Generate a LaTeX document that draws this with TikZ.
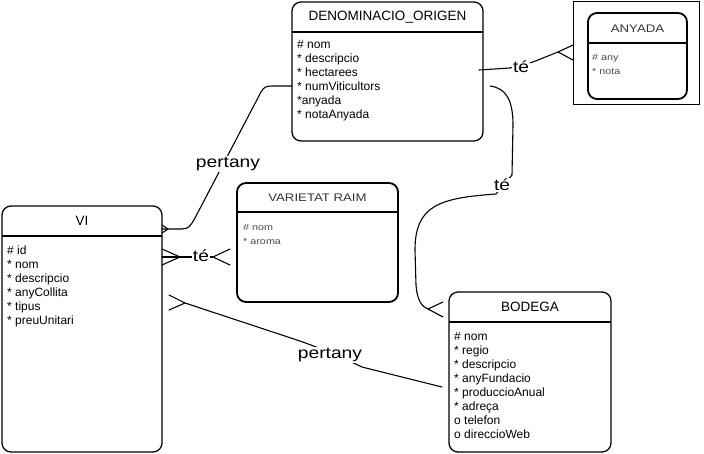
\documentclass[tikz,border=0pt]{standalone}
\usepackage{fontspec}
\setmainfont{Liberation Sans}
\newfontfamily\sketchfont[FakeStretch=1.2]{Liberation Sans}
\usetikzlibrary{calc}
\begin{document}
\begin{tikzpicture}[x=1pt,y=-1pt,
  entity/.style={draw, rounded corners=9pt, line width=1.3pt, anchor=north west, outer sep=0pt, inner sep=0pt},
  sketchbox/.style={entity, line width=1.8pt},
  hdr/.style={line width=1.3pt},
  shdr/.style={line width=1.8pt},
  ttl/.style={font=\fontsize{13.5}{16}\selectfont, inner sep=0pt},
  sttl/.style={font=\sketchfont\fontsize{11}{13}\selectfont, text=black!80, inner sep=0pt},
  attr/.style={font=\fontsize{12}{14}\selectfont, anchor=base west, inner sep=0pt},
  sattr/.style={font=\sketchfont\fontsize{9}{11}\selectfont, text=black!70, anchor=base west, inner sep=0pt},
  conn/.style={line width=1.1pt, line join=round, line cap=round},
  rel/.style={font=\sketchfont\fontsize{16}{18}\selectfont, fill=white, inner sep=1pt}]
\useasboundingbox (0,0) rectangle (704,453);

% entities
\node[entity, minimum width=191pt, minimum height=139pt] (den) at (292,2) {};
\draw[hdr] ($(den.north west)+(0,30)$) -- ($(den.north east)+(0,30)$);
\node[ttl] (denT) at (387.5,17) {DENOMINACIO\_ORIGEN};
\foreach \t [count=\i from 0] in {\# nom, * descripcio, * hectarees, * numViticultors, *anyada, * notaAnyada}
  \node[attr, name=denA\i] at (297,{48+14*\i}) {\t};

\node[draw, line width=0.8pt, anchor=north west, outer sep=0pt, inner sep=0pt, minimum width=126pt, minimum height=103pt] (anyo) at (573,1) {};
\node[sketchbox, minimum width=99pt, minimum height=86pt] (any) at (588,13) {};
\draw[shdr] ($(any.north west)+(0,30)$) -- ($(any.north east)+(0,30)$);
\node[sttl] (anyT) at (637.5,29) {ANYADA};
\node[sattr] (anyA0) at (592,60) {\# any};
\node[sattr] (anyA1) at (592,74) {* nota};

\node[entity, minimum width=160pt, minimum height=246pt] (vi) at (2,206) {};
\draw[hdr] ($(vi.north west)+(0,30)$) -- ($(vi.north east)+(0,30)$);
\node[ttl] (viT) at (82,221) {VI};
\foreach \t [count=\i from 0] in {\# id, * nom, * descripcio, * anyCollita, * tipus, * preuUnitari}
  \node[attr, name=viA\i] at (7,{254+14*\i}) {\t};

\node[sketchbox, minimum width=161pt, minimum height=119pt] (var) at (237,183) {};
\draw[shdr] ($(var.north west)+(0,29)$) -- ($(var.north east)+(0,29)$);
\node[sttl] (varT) at (317.5,198) {VARIETAT RAIM};
\node[sattr] (varA0) at (243,230) {\# nom};
\node[sattr] (varA1) at (243,244) {* aroma};

\node[entity, minimum width=162pt, minimum height=160pt] (bod) at (449,292) {};
\draw[hdr] ($(bod.north west)+(0,30)$) -- ($(bod.north east)+(0,30)$);
\node[ttl] (bodT) at (530,307) {BODEGA};
\foreach \t [count=\i from 0] in {\# nom, * regio, * descripcio, * anyFundacio, * produccioAnual, * adreça, o telefon, o direccioWeb}
  \node[attr, name=bodA\i] at (454,{340+14*\i}) {\t};

% connector 1: VI - DENOMINACIO (pertany)
\coordinate (c1a) at ($(vi.north east)+(0,23)$);
\coordinate (c1b) at ($(den.north west)+(0,84)$);
\draw[conn] (c1a) -- (182,229) .. controls (189,229) and (191,225) .. (195,218) -- (261,92) .. controls (264,87) and (266,86) .. (272,86) -- (c1b);
\draw[conn] ($(c1a)+(0,-4)$) -- ($(c1a)+(6,0)$) -- ($(c1a)+(0,4)$);
\node[rel] (p1) at (228,164) {pertany};

% connector 2: VI - VARIETAT (té)
\coordinate (c2a) at ($(vi.north east)+(0,51)$);
\coordinate (c2b) at ($(var.north west)+(-24,74)$);
\draw[conn] (c2a) -- (c2b);
\draw[conn] ($(c2a)+(0,-8)$) -- ($(c2a)+(18,0)$) -- ($(c2a)+(0,8)$);
\draw[conn] ($(c2b)+(17,-8)$) -- (c2b) -- ($(c2b)+(17,8)$);
\node[rel, inner sep=0.5pt] (t2) at (201,256) {té};

% connector 3: VI - BODEGA (pertany)
\coordinate (c3a) at ($(vi.north east)+(23,97)$);
\coordinate (c3b) at ($(bod.north west)+(-7,95)$);
\draw[conn] (c3a) -- (300,341) .. controls (330,352) .. (362,367) -- (c3b);
\draw[conn] ($(c3a)+(-16,-8)$) -- (c3a) -- ($(c3a)+(-16,7)$);
\node[rel] (p3) at (330,355) {pertany};

% connector 4: DENOMINACIO - BODEGA (té)
\coordinate (c4a) at ($(den.north east)+(7,84)$);
\coordinate (c4b) at ($(bod.north west)+(-21,17)$);
\draw[conn] (c4a) .. controls (506,88) and (513,100) .. (513,125) -- (512,175) -- (496,194) .. controls (440,198) and (415,205) .. (415,250) -- (416,285) .. controls (417,300) and (422,307) .. (c4b);
\draw[conn] ($(c4b)+(15,-7)$) -- (c4b) -- ($(c4b)+(15,8)$);
\node[rel] (t4) at (502,185) {té};

% connector 5: DENOMINACIO - ANYADA (té)
\coordinate (c5a) at ($(den.north east)+(-4,68)$);
\coordinate (c5b) at ($(anyo.north west)+(-15,51)$);
\draw[conn] (c5a) -- (510,68) -- (533,62) -- (c5b);
\draw[conn] ($(anyo.north west)+(0,44)$) -- (c5b) -- ($(anyo.north west)+(0,59)$);
\node[rel] (t5) at (521,67) {té};
\end{tikzpicture}
\end{document}
